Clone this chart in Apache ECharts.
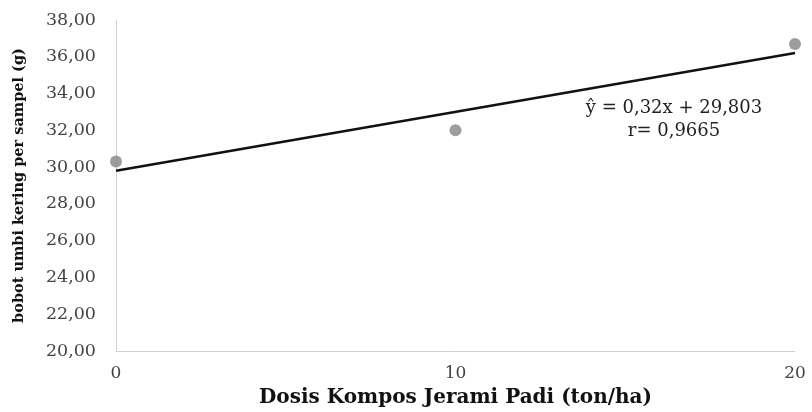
<!DOCTYPE html>
<html>
<head>
<meta charset="utf-8">
<script src="https://cdn.jsdelivr.net/npm/echarts@6/dist/echarts.min.js"></script>
<style>
  html, body { margin: 0; padding: 0; background: #fff; }
  #chart { width: 812px; height: 412px; }
</style>
</head>
<body>
<div id="chart"></div>
<script>
// data
var dosis = [0, 10, 20]
var bobot = [30.3, 32.0, 36.7]
var slope = 0.32
var intercept = 29.803
var trend = [[0, intercept], [20, intercept + slope * 20]]
var eqLines = ['ŷ = 0,32x + 29,803', 'r= 0,9665']

var serif = '"DejaVu Serif", "Liberation Serif", serif'
var chart = echarts.init(document.getElementById('chart'))
chart.setOption({
  animation: false,
  grid: { left: 116, right: 17, top: 20, bottom: 61, outerBoundsMode: 'none', containLabel: false },
  xAxis: {
    type: 'value',
    min: 0,
    max: 20,
    interval: 10,
    name: 'Dosis Kompos Jerami Padi (ton/ha)',
    nameLocation: 'middle',
    nameGap: 37,
    nameTextStyle: { fontFamily: serif, fontSize: 20, fontWeight: 'bold', color: '#111' },
    axisLine: { lineStyle: { color: '#d0d0d0', width: 1 } },
    axisTick: { show: false },
    splitLine: { show: false },
    axisLabel: { fontFamily: serif, fontSize: 17, color: '#444', margin: 14 }
  },
  yAxis: {
    type: 'value',
    min: 20,
    max: 38,
    interval: 2,
    name: 'bobot umbi kering per sampel (g)',
    nameLocation: 'middle',
    nameGap: 89,
    nameRotate: 90,
    nameTextStyle: { fontFamily: serif, fontSize: 14.5, fontWeight: 'bold', color: '#111' },
    axisLine: { show: true, lineStyle: { color: '#d0d0d0', width: 1 } },
    axisTick: { show: false },
    splitLine: { show: false },
    axisLabel: {
      fontFamily: serif, fontSize: 17.5, color: '#444', margin: 20,
      formatter: function (v) { return v.toFixed(2).replace('.', ',') }
    }
  },
  series: [
    {
      type: 'line',
      data: trend,
      showSymbol: false,
      symbol: 'none',
      lineStyle: { color: '#111', width: 2.5 },
      z: 2
    },
    {
      type: 'scatter',
      data: dosis.map(function (x, i) { return [x, bobot[i]] }),
      symbolSize: 12,
      itemStyle: { color: '#858585' },
      z: 3
    }
  ],
  graphic: eqLines.map(function (t, i) {
    return {
      type: 'text',
      x: 674,
      y: 108 + i * 23,
      style: {
        text: t,
        font: '18px ' + serif,
        fill: '#222',
        textAlign: 'center',
        textVerticalAlign: 'middle'
      }
    }
  })
})
</script>
</body>
</html>
